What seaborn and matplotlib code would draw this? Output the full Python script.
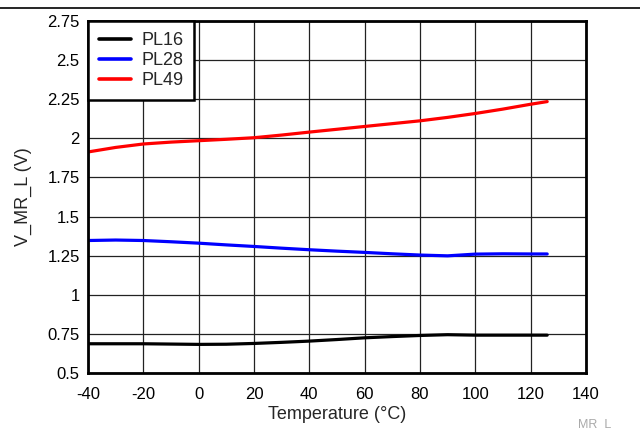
import matplotlib
matplotlib.use("Agg")
import matplotlib.pyplot as plt
from matplotlib.lines import Line2D
import seaborn as sns
import pandas as pd

temps = [-40, -30, -20, -10, 0, 10, 20, 30, 40, 50, 60, 70, 80, 90, 100, 110, 120, 126]
pl16 = [0.687, 0.687, 0.687, 0.685, 0.683, 0.684, 0.689, 0.696, 0.704, 0.714, 0.725, 0.733, 0.740, 0.745, 0.742, 0.742, 0.742, 0.742]
pl28 = [1.347, 1.350, 1.347, 1.339, 1.330, 1.319, 1.309, 1.298, 1.288, 1.279, 1.271, 1.262, 1.254, 1.249, 1.260, 1.262, 1.261, 1.261]
pl49 = [1.913, 1.942, 1.964, 1.976, 1.985, 1.994, 2.004, 2.021, 2.040, 2.058, 2.076, 2.094, 2.112, 2.134, 2.159, 2.187, 2.218, 2.235]
series = ["PL16", "PL28", "PL49"]
colors = ["#000000", "#0000ff", "#ff0000"]
xticks = [-40, -20, 0, 20, 40, 60, 80, 100, 120, 140]
yticks = [0.5, 0.75, 1, 1.25, 1.5, 1.75, 2, 2.25, 2.5, 2.75]
ytick_labels = ["0.5", "0.75", "1", "1.25", "1.5", "1.75", "2", "2.25", "2.5", "2.75"]

rows = []
for name, vals in zip(series, [pl16, pl28, pl49]):
    for t, v in zip(temps, vals):
        rows.append({"Temperature": t, "V": v, "Series": name})
df = pd.DataFrame(rows)

sns.set_style("white")
plt.rcParams["font.family"] = ["Liberation Sans", "DejaVu Sans"]

fig = plt.figure(figsize=(6.4, 4.29), dpi=100)
ax = fig.add_axes([0.1375, 0.1305, 0.778, 0.8205])

sns.lineplot(data=df, x="Temperature", y="V", hue="Series", hue_order=series,
             palette=colors, linewidth=2.3, ax=ax, legend=True)

ax.set_xlim(-40, 140)
ax.set_ylim(0.5, 2.75)
ax.set_xticks(xticks)
ax.set_xticklabels([str(x) for x in xticks])
ax.set_yticks(yticks)
ax.set_yticklabels(ytick_labels)
ax.grid(True, color="#222222", linewidth=0.9)
ax.set_axisbelow(True)
ax.tick_params(axis="both", length=0, labelsize=12, colors="black")
ax.tick_params(axis="x", pad=10)
ax.tick_params(axis="y", pad=6)
for s in ax.spines.values():
    s.set_visible(True)
    s.set_color("black")
    s.set_linewidth(2)
ax.set_xlabel("Temperature (°C)", fontsize=13, labelpad=3)
ax.set_ylabel("V_MR_L (V)", fontsize=13, labelpad=11)

leg = ax.legend(loc="upper left", bbox_to_anchor=(0, 1), borderaxespad=0,
                fontsize=13, frameon=True, fancybox=False, handlelength=1.8,
                handletextpad=0.55, labelspacing=0.18, borderpad=0.6)
leg.get_frame().set_edgecolor("black")
leg.get_frame().set_linewidth(1.8)
leg.get_frame().set_alpha(1)
for h in leg.get_lines():
    h.set_linewidth(2.6)

fig.add_artist(Line2D([0, 1], [1 - 8 / 429, 1 - 8 / 429], color="black", linewidth=1.2, transform=fig.transFigure))
fig.text(578 / 640, 1 - 424 / 429, "MR_L", fontsize=9, color="#aaaaaa", va="center", ha="left")

fig.savefig("out.png", dpi=100)
